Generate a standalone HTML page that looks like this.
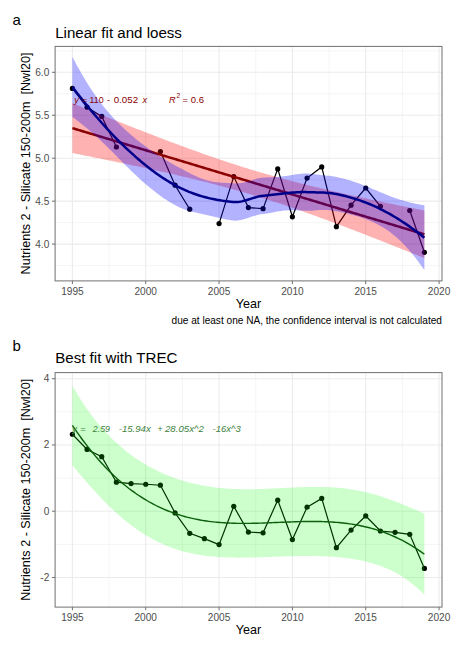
<!DOCTYPE html>
<html><head><meta charset="utf-8"><title>plot</title>
<style>html,body{margin:0;padding:0;background:#fff;}svg{display:block;}</style></head>
<body><svg width="455" height="649" viewBox="0 0 455 649" font-family="Liberation Sans, sans-serif">
<rect x="0" y="0" width="455" height="649" fill="#ffffff"/>
<rect x="54.8" y="46.4" width="387.20" height="234.50" fill="#ffffff"/>
<line x1="54.8" x2="442.0" y1="265.57" y2="265.57" stroke="#EBEBEB" stroke-width="0.55"/>
<line x1="54.8" x2="442.0" y1="222.62" y2="222.62" stroke="#EBEBEB" stroke-width="0.55"/>
<line x1="54.8" x2="442.0" y1="179.68" y2="179.68" stroke="#EBEBEB" stroke-width="0.55"/>
<line x1="54.8" x2="442.0" y1="136.73" y2="136.73" stroke="#EBEBEB" stroke-width="0.55"/>
<line x1="54.8" x2="442.0" y1="93.78" y2="93.78" stroke="#EBEBEB" stroke-width="0.55"/>
<line x1="54.8" x2="442.0" y1="50.82" y2="50.82" stroke="#EBEBEB" stroke-width="0.55"/>
<line x1="109.07" x2="109.07" y1="46.4" y2="280.9" stroke="#EBEBEB" stroke-width="0.55"/>
<line x1="182.40" x2="182.40" y1="46.4" y2="280.9" stroke="#EBEBEB" stroke-width="0.55"/>
<line x1="255.73" x2="255.73" y1="46.4" y2="280.9" stroke="#EBEBEB" stroke-width="0.55"/>
<line x1="329.07" x2="329.07" y1="46.4" y2="280.9" stroke="#EBEBEB" stroke-width="0.55"/>
<line x1="402.40" x2="402.40" y1="46.4" y2="280.9" stroke="#EBEBEB" stroke-width="0.55"/>
<line x1="54.8" x2="442.0" y1="244.10" y2="244.10" stroke="#EBEBEB" stroke-width="1.1"/>
<line x1="54.8" x2="442.0" y1="201.15" y2="201.15" stroke="#EBEBEB" stroke-width="1.1"/>
<line x1="54.8" x2="442.0" y1="158.20" y2="158.20" stroke="#EBEBEB" stroke-width="1.1"/>
<line x1="54.8" x2="442.0" y1="115.25" y2="115.25" stroke="#EBEBEB" stroke-width="1.1"/>
<line x1="54.8" x2="442.0" y1="72.30" y2="72.30" stroke="#EBEBEB" stroke-width="1.1"/>
<line x1="72.40" x2="72.40" y1="46.4" y2="280.9" stroke="#EBEBEB" stroke-width="1.1"/>
<line x1="145.73" x2="145.73" y1="46.4" y2="280.9" stroke="#EBEBEB" stroke-width="1.1"/>
<line x1="219.07" x2="219.07" y1="46.4" y2="280.9" stroke="#EBEBEB" stroke-width="1.1"/>
<line x1="292.40" x2="292.40" y1="46.4" y2="280.9" stroke="#EBEBEB" stroke-width="1.1"/>
<line x1="365.73" x2="365.73" y1="46.4" y2="280.9" stroke="#EBEBEB" stroke-width="1.1"/>
<line x1="439.07" x2="439.07" y1="46.4" y2="280.9" stroke="#EBEBEB" stroke-width="1.1"/>
<path d="M72.40,88.40 L87.07,107.20 L101.73,116.40 L116.40,147.00" fill="none" stroke="#000" stroke-width="1.2"/>
<path d="M160.40,151.60 L175.07,185.20 L189.73,209.20" fill="none" stroke="#000" stroke-width="1.2"/>
<path d="M219.07,223.60 L233.73,176.60 L248.40,207.60 L263.07,208.70 L277.73,168.90 L292.40,216.80 L307.07,178.10 L321.73,166.90 L336.40,226.70 L351.07,205.20 L365.73,188.00 L380.40,206.30" fill="none" stroke="#000" stroke-width="1.2"/>
<path d="M409.73,210.50 L424.40,252.30" fill="none" stroke="#000" stroke-width="1.2"/>
<circle cx="72.40" cy="88.40" r="2.6" fill="#000"/>
<circle cx="87.07" cy="107.20" r="2.6" fill="#000"/>
<circle cx="101.73" cy="116.40" r="2.6" fill="#000"/>
<circle cx="116.40" cy="147.00" r="2.6" fill="#000"/>
<circle cx="160.40" cy="151.60" r="2.6" fill="#000"/>
<circle cx="175.07" cy="185.20" r="2.6" fill="#000"/>
<circle cx="189.73" cy="209.20" r="2.6" fill="#000"/>
<circle cx="219.07" cy="223.60" r="2.6" fill="#000"/>
<circle cx="233.73" cy="176.60" r="2.6" fill="#000"/>
<circle cx="248.40" cy="207.60" r="2.6" fill="#000"/>
<circle cx="263.07" cy="208.70" r="2.6" fill="#000"/>
<circle cx="277.73" cy="168.90" r="2.6" fill="#000"/>
<circle cx="292.40" cy="216.80" r="2.6" fill="#000"/>
<circle cx="307.07" cy="178.10" r="2.6" fill="#000"/>
<circle cx="321.73" cy="166.90" r="2.6" fill="#000"/>
<circle cx="336.40" cy="226.70" r="2.6" fill="#000"/>
<circle cx="351.07" cy="205.20" r="2.6" fill="#000"/>
<circle cx="365.73" cy="188.00" r="2.6" fill="#000"/>
<circle cx="380.40" cy="206.30" r="2.6" fill="#000"/>
<circle cx="409.73" cy="210.50" r="2.6" fill="#000"/>
<circle cx="424.40" cy="252.30" r="2.6" fill="#000"/>
<path d="M72.40,103.20 L74.60,104.09 L76.80,104.98 L79.00,105.87 L81.20,106.76 L83.40,107.64 L85.60,108.53 L87.80,109.41 L90.00,110.30 L92.20,111.18 L94.40,112.07 L96.60,112.95 L98.80,113.83 L101.00,114.71 L103.20,115.59 L105.40,116.46 L107.60,117.34 L109.80,118.22 L112.00,119.09 L114.20,119.97 L116.40,120.84 L118.60,121.71 L120.80,122.58 L123.00,123.45 L125.20,124.31 L127.40,125.18 L129.60,126.04 L131.80,126.91 L134.00,127.77 L136.20,128.63 L138.40,129.49 L140.60,130.34 L142.80,131.20 L145.00,132.05 L147.20,132.90 L149.40,133.75 L151.60,134.60 L153.80,135.44 L156.00,136.29 L158.20,137.13 L160.40,137.97 L162.60,138.81 L164.80,139.64 L167.00,140.47 L169.20,141.30 L171.40,142.13 L173.60,142.95 L175.80,143.77 L178.00,144.59 L180.20,145.41 L182.40,146.22 L184.60,147.03 L186.80,147.84 L189.00,148.64 L191.20,149.44 L193.40,150.24 L195.60,151.03 L197.80,151.82 L200.00,152.60 L202.20,153.38 L204.40,154.16 L206.60,154.94 L208.80,155.71 L211.00,156.47 L213.20,157.23 L215.40,157.99 L217.60,158.74 L219.80,159.49 L222.00,160.23 L224.20,160.97 L226.40,161.70 L228.60,162.43 L230.80,163.15 L233.00,163.87 L235.20,164.58 L237.40,165.29 L239.60,165.99 L241.80,166.69 L244.00,167.38 L246.20,168.06 L248.40,168.74 L250.60,169.42 L252.80,170.09 L255.00,170.75 L257.20,171.41 L259.40,172.06 L261.60,172.71 L263.80,173.35 L266.00,173.99 L268.20,174.62 L270.40,175.25 L272.60,175.87 L274.80,176.49 L277.00,177.10 L279.20,177.70 L281.40,178.30 L283.60,178.90 L285.80,179.49 L288.00,180.07 L290.20,180.65 L292.40,181.23 L294.60,181.80 L296.80,182.37 L299.00,182.93 L301.20,183.49 L303.40,184.05 L305.60,184.60 L307.80,185.14 L310.00,185.69 L312.20,186.22 L314.40,186.76 L316.60,187.29 L318.80,187.82 L321.00,188.35 L323.20,188.87 L325.40,189.39 L327.60,189.90 L329.80,190.41 L332.00,190.92 L334.20,191.43 L336.40,191.93 L338.60,192.43 L340.80,192.93 L343.00,193.43 L345.20,193.92 L347.40,194.41 L349.60,194.90 L351.80,195.39 L354.00,195.87 L356.20,196.36 L358.40,196.84 L360.60,197.32 L362.80,197.79 L365.00,198.27 L367.20,198.74 L369.40,199.21 L371.60,199.68 L373.80,200.15 L376.00,200.62 L378.20,201.08 L380.40,201.54 L382.60,202.01 L384.80,202.47 L387.00,202.93 L389.20,203.38 L391.40,203.84 L393.60,204.30 L395.80,204.75 L398.00,205.20 L400.20,205.66 L402.40,206.11 L404.60,206.56 L406.80,207.01 L409.00,207.45 L411.20,207.90 L413.40,208.35 L415.60,208.79 L417.80,209.24 L420.00,209.68 L422.20,210.12 L424.40,210.56 L424.40,258.12 L422.20,257.23 L420.00,256.34 L417.80,255.46 L415.60,254.58 L413.40,253.69 L411.20,252.81 L409.00,251.93 L406.80,251.05 L404.60,250.17 L402.40,249.29 L400.20,248.42 L398.00,247.54 L395.80,246.67 L393.60,245.79 L391.40,244.92 L389.20,244.05 L387.00,243.18 L384.80,242.31 L382.60,241.45 L380.40,240.58 L378.20,239.72 L376.00,238.85 L373.80,237.99 L371.60,237.13 L369.40,236.27 L367.20,235.42 L365.00,234.56 L362.80,233.71 L360.60,232.86 L358.40,232.01 L356.20,231.16 L354.00,230.32 L351.80,229.47 L349.60,228.63 L347.40,227.79 L345.20,226.96 L343.00,226.12 L340.80,225.29 L338.60,224.46 L336.40,223.64 L334.20,222.81 L332.00,221.99 L329.80,221.17 L327.60,220.36 L325.40,219.54 L323.20,218.73 L321.00,217.93 L318.80,217.13 L316.60,216.33 L314.40,215.53 L312.20,214.74 L310.00,213.95 L307.80,213.16 L305.60,212.38 L303.40,211.60 L301.20,210.83 L299.00,210.06 L296.80,209.30 L294.60,208.54 L292.40,207.78 L290.20,207.03 L288.00,206.28 L285.80,205.54 L283.60,204.80 L281.40,204.07 L279.20,203.34 L277.00,202.62 L274.80,201.90 L272.60,201.19 L270.40,200.49 L268.20,199.78 L266.00,199.09 L263.80,198.40 L261.60,197.71 L259.40,197.03 L257.20,196.36 L255.00,195.69 L252.80,195.02 L250.60,194.36 L248.40,193.71 L246.20,193.06 L244.00,192.42 L241.80,191.79 L239.60,191.16 L237.40,190.53 L235.20,189.91 L233.00,189.29 L230.80,188.68 L228.60,188.08 L226.40,187.48 L224.20,186.88 L222.00,186.29 L219.80,185.71 L217.60,185.13 L215.40,184.55 L213.20,183.98 L211.00,183.41 L208.80,182.85 L206.60,182.29 L204.40,181.74 L202.20,181.19 L200.00,180.64 L197.80,180.10 L195.60,179.56 L193.40,179.03 L191.20,178.49 L189.00,177.97 L186.80,177.44 L184.60,176.92 L182.40,176.40 L180.20,175.89 L178.00,175.38 L175.80,174.87 L173.60,174.36 L171.40,173.86 L169.20,173.36 L167.00,172.86 L164.80,172.36 L162.60,171.87 L160.40,171.38 L158.20,170.89 L156.00,170.40 L153.80,169.92 L151.60,169.43 L149.40,168.95 L147.20,168.48 L145.00,168.00 L142.80,167.52 L140.60,167.05 L138.40,166.58 L136.20,166.11 L134.00,165.64 L131.80,165.18 L129.60,164.71 L127.40,164.25 L125.20,163.79 L123.00,163.33 L120.80,162.87 L118.60,162.41 L116.40,161.95 L114.20,161.50 L112.00,161.04 L109.80,160.59 L107.60,160.14 L105.40,159.69 L103.20,159.24 L101.00,158.79 L98.80,158.34 L96.60,157.89 L94.40,157.45 L92.20,157.00 L90.00,156.56 L87.80,156.11 L85.60,155.67 L83.40,155.23 L81.20,154.79 L79.00,154.35 L76.80,153.91 L74.60,153.47 L72.40,153.03Z" fill="#FF0000" fill-opacity="0.3"/>
<path d="M72.40,128.12 L74.60,128.78 L76.80,129.44 L79.00,130.11 L81.20,130.77 L83.40,131.44 L85.60,132.10 L87.80,132.76 L90.00,133.43 L92.20,134.09 L94.40,134.76 L96.60,135.42 L98.80,136.08 L101.00,136.75 L103.20,137.41 L105.40,138.08 L107.60,138.74 L109.80,139.40 L112.00,140.07 L114.20,140.73 L116.40,141.39 L118.60,142.06 L120.80,142.72 L123.00,143.39 L125.20,144.05 L127.40,144.71 L129.60,145.38 L131.80,146.04 L134.00,146.71 L136.20,147.37 L138.40,148.03 L140.60,148.70 L142.80,149.36 L145.00,150.03 L147.20,150.69 L149.40,151.35 L151.60,152.02 L153.80,152.68 L156.00,153.34 L158.20,154.01 L160.40,154.67 L162.60,155.34 L164.80,156.00 L167.00,156.66 L169.20,157.33 L171.40,157.99 L173.60,158.66 L175.80,159.32 L178.00,159.98 L180.20,160.65 L182.40,161.31 L184.60,161.98 L186.80,162.64 L189.00,163.30 L191.20,163.97 L193.40,164.63 L195.60,165.29 L197.80,165.96 L200.00,166.62 L202.20,167.29 L204.40,167.95 L206.60,168.61 L208.80,169.28 L211.00,169.94 L213.20,170.61 L215.40,171.27 L217.60,171.93 L219.80,172.60 L222.00,173.26 L224.20,173.93 L226.40,174.59 L228.60,175.25 L230.80,175.92 L233.00,176.58 L235.20,177.24 L237.40,177.91 L239.60,178.57 L241.80,179.24 L244.00,179.90 L246.20,180.56 L248.40,181.23 L250.60,181.89 L252.80,182.56 L255.00,183.22 L257.20,183.88 L259.40,184.55 L261.60,185.21 L263.80,185.88 L266.00,186.54 L268.20,187.20 L270.40,187.87 L272.60,188.53 L274.80,189.19 L277.00,189.86 L279.20,190.52 L281.40,191.19 L283.60,191.85 L285.80,192.51 L288.00,193.18 L290.20,193.84 L292.40,194.51 L294.60,195.17 L296.80,195.83 L299.00,196.50 L301.20,197.16 L303.40,197.83 L305.60,198.49 L307.80,199.15 L310.00,199.82 L312.20,200.48 L314.40,201.14 L316.60,201.81 L318.80,202.47 L321.00,203.14 L323.20,203.80 L325.40,204.46 L327.60,205.13 L329.80,205.79 L332.00,206.46 L334.20,207.12 L336.40,207.78 L338.60,208.45 L340.80,209.11 L343.00,209.78 L345.20,210.44 L347.40,211.10 L349.60,211.77 L351.80,212.43 L354.00,213.10 L356.20,213.76 L358.40,214.42 L360.60,215.09 L362.80,215.75 L365.00,216.41 L367.20,217.08 L369.40,217.74 L371.60,218.41 L373.80,219.07 L376.00,219.73 L378.20,220.40 L380.40,221.06 L382.60,221.73 L384.80,222.39 L387.00,223.05 L389.20,223.72 L391.40,224.38 L393.60,225.05 L395.80,225.71 L398.00,226.37 L400.20,227.04 L402.40,227.70 L404.60,228.36 L406.80,229.03 L409.00,229.69 L411.20,230.36 L413.40,231.02 L415.60,231.68 L417.80,232.35 L420.00,233.01 L422.20,233.68 L424.40,234.34" fill="none" stroke="#8B0000" stroke-width="2.5"/>
<path d="M72.40,56.86 L74.60,61.04 L76.80,65.13 L79.00,69.11 L81.20,72.99 L83.40,76.77 L85.60,80.44 L87.80,84.01 L90.00,87.47 L92.20,90.82 L94.40,94.06 L96.60,97.20 L98.80,100.23 L101.00,103.16 L103.20,105.99 L105.40,108.72 L107.60,111.36 L109.80,113.91 L112.00,116.37 L114.20,118.76 L116.40,121.07 L118.60,123.32 L120.80,125.49 L123.00,127.61 L125.20,129.66 L127.40,131.66 L129.60,133.61 L131.80,135.51 L134.00,137.36 L136.20,139.17 L138.40,140.94 L140.60,142.67 L142.80,144.35 L145.00,146.01 L147.20,147.62 L149.40,149.20 L151.60,150.75 L153.80,152.26 L156.00,153.74 L158.20,155.19 L160.40,156.60 L162.60,157.99 L164.80,159.34 L167.00,160.67 L169.20,161.97 L171.40,163.23 L173.60,164.47 L175.80,165.67 L178.00,166.88 L180.20,168.10 L182.40,169.31 L184.60,170.51 L186.80,171.69 L189.00,172.85 L191.20,173.96 L193.40,175.04 L195.60,176.06 L197.80,177.02 L200.00,177.91 L202.20,178.73 L204.40,179.47 L206.60,180.13 L208.80,180.71 L211.00,181.20 L213.20,181.63 L215.40,181.98 L217.60,182.26 L219.80,182.50 L222.00,182.69 L224.20,182.85 L226.40,182.98 L228.60,183.11 L230.80,183.23 L233.00,183.37 L235.20,183.49 L237.40,183.45 L239.60,183.26 L241.80,182.93 L244.00,182.49 L246.20,181.94 L248.40,181.31 L250.60,180.63 L252.80,179.93 L255.00,179.24 L257.20,178.60 L259.40,178.07 L261.60,177.69 L263.80,177.50 L266.00,177.38 L268.20,177.29 L270.40,177.22 L272.60,177.14 L274.80,177.06 L277.00,176.94 L279.20,176.79 L281.40,176.59 L283.60,176.35 L285.80,176.05 L288.00,175.72 L290.20,175.35 L292.40,174.97 L294.60,174.59 L296.80,174.23 L299.00,173.92 L301.20,173.68 L303.40,173.53 L305.60,173.48 L307.80,173.57 L310.00,173.75 L312.20,173.97 L314.40,174.23 L316.60,174.50 L318.80,174.76 L321.00,175.01 L323.20,175.23 L325.40,175.44 L327.60,175.65 L329.80,175.87 L332.00,176.13 L334.20,176.46 L336.40,176.88 L338.60,177.38 L340.80,177.91 L343.00,178.47 L345.20,179.07 L347.40,179.70 L349.60,180.36 L351.80,181.05 L354.00,181.77 L356.20,182.52 L358.40,183.30 L360.60,184.10 L362.80,184.93 L365.00,185.78 L367.20,186.66 L369.40,187.55 L371.60,188.46 L373.80,189.38 L376.00,190.31 L378.20,191.24 L380.40,192.18 L382.60,193.11 L384.80,194.03 L387.00,194.92 L389.20,195.79 L391.40,196.64 L393.60,197.45 L395.80,198.23 L398.00,198.97 L400.20,199.68 L402.40,200.36 L404.60,201.00 L406.80,201.61 L409.00,202.18 L411.20,202.72 L413.40,203.23 L415.60,203.71 L417.80,204.15 L420.00,204.58 L422.20,204.97 L424.40,205.34 L424.40,270.07 L422.20,266.93 L420.00,263.89 L417.80,260.95 L415.60,258.09 L413.40,255.33 L411.20,252.67 L409.00,250.11 L406.80,247.65 L404.60,245.29 L402.40,243.03 L400.20,240.87 L398.00,238.81 L395.80,236.86 L393.60,235.00 L391.40,233.25 L389.20,231.60 L387.00,230.04 L384.80,228.57 L382.60,227.19 L380.40,225.89 L378.20,224.67 L376.00,223.53 L373.80,222.46 L371.60,221.46 L369.40,220.52 L367.20,219.63 L365.00,218.79 L362.80,218.01 L360.60,217.26 L358.40,216.57 L356.20,215.90 L354.00,215.28 L351.80,214.69 L349.60,214.13 L347.40,213.60 L345.20,213.10 L343.00,212.62 L340.80,212.16 L338.60,211.73 L336.40,211.31 L334.20,210.93 L332.00,210.59 L329.80,210.32 L327.60,210.12 L325.40,210.00 L323.20,209.96 L321.00,210.01 L318.80,210.12 L316.60,210.28 L314.40,210.47 L312.20,210.64 L310.00,210.76 L307.80,210.80 L305.60,210.74 L303.40,210.64 L301.20,210.53 L299.00,210.41 L296.80,210.30 L294.60,210.22 L292.40,210.17 L290.20,210.18 L288.00,210.25 L285.80,210.39 L283.60,210.60 L281.40,210.88 L279.20,211.22 L277.00,211.61 L274.80,212.04 L272.60,212.48 L270.40,212.92 L268.20,213.33 L266.00,213.69 L263.80,213.98 L261.60,214.23 L259.40,214.60 L257.20,215.07 L255.00,215.65 L252.80,216.30 L250.60,217.01 L248.40,217.75 L246.20,218.49 L244.00,219.18 L241.80,219.80 L239.60,220.28 L237.40,220.59 L235.20,220.68 L233.00,220.51 L230.80,220.21 L228.60,219.86 L226.40,219.46 L224.20,219.02 L222.00,218.55 L219.80,218.05 L217.60,217.54 L215.40,217.02 L213.20,216.50 L211.00,215.99 L208.80,215.48 L206.60,214.99 L204.40,214.50 L202.20,214.01 L200.00,213.53 L197.80,213.04 L195.60,212.53 L193.40,212.00 L191.20,211.44 L189.00,210.82 L186.80,210.16 L184.60,209.42 L182.40,208.61 L180.20,207.70 L178.00,206.70 L175.80,205.59 L173.60,204.37 L171.40,203.09 L169.20,201.75 L167.00,200.36 L164.80,198.91 L162.60,197.41 L160.40,195.85 L158.20,194.24 L156.00,192.58 L153.80,190.87 L151.60,189.11 L149.40,187.31 L147.20,185.46 L145.00,183.56 L142.80,181.63 L140.60,179.65 L138.40,177.64 L136.20,175.59 L134.00,173.50 L131.80,171.39 L129.60,169.25 L127.40,167.09 L125.20,164.90 L123.00,162.70 L120.80,160.49 L118.60,158.27 L116.40,156.05 L114.20,153.83 L112.00,151.62 L109.80,149.42 L107.60,147.24 L105.40,145.09 L103.20,142.95 L101.00,140.86 L98.80,138.79 L96.60,136.77 L94.40,134.79 L92.20,132.84 L90.00,130.94 L87.80,129.08 L85.60,127.25 L83.40,125.46 L81.20,123.70 L79.00,121.98 L76.80,120.28 L74.60,118.61 L72.40,116.96Z" fill="#0000FF" fill-opacity="0.3"/>
<path d="M72.40,86.91 L74.60,89.82 L76.80,92.70 L79.00,95.54 L81.20,98.35 L83.40,101.11 L85.60,103.85 L87.80,106.54 L90.00,109.20 L92.20,111.83 L94.40,114.43 L96.60,116.99 L98.80,119.51 L101.00,122.01 L103.20,124.47 L105.40,126.90 L107.60,129.30 L109.80,131.66 L112.00,134.00 L114.20,136.30 L116.40,138.56 L118.60,140.80 L120.80,142.99 L123.00,145.16 L125.20,147.28 L127.40,149.38 L129.60,151.43 L131.80,153.45 L134.00,155.43 L136.20,157.38 L138.40,159.29 L140.60,161.16 L142.80,162.99 L145.00,164.78 L147.20,166.54 L149.40,168.25 L151.60,169.93 L153.80,171.57 L156.00,173.16 L158.20,174.71 L160.40,176.23 L162.60,177.70 L164.80,179.13 L167.00,180.51 L169.20,181.86 L171.40,183.16 L173.60,184.42 L175.80,185.63 L178.00,186.79 L180.20,187.90 L182.40,188.96 L184.60,189.97 L186.80,190.92 L189.00,191.84 L191.20,192.70 L193.40,193.52 L195.60,194.30 L197.80,195.03 L200.00,195.72 L202.20,196.37 L204.40,196.98 L206.60,197.56 L208.80,198.10 L211.00,198.60 L213.20,199.07 L215.40,199.50 L217.60,199.90 L219.80,200.28 L222.00,200.62 L224.20,200.93 L226.40,201.22 L228.60,201.49 L230.80,201.72 L233.00,201.94 L235.20,202.08 L237.40,202.02 L239.60,201.77 L241.80,201.37 L244.00,200.84 L246.20,200.21 L248.40,199.53 L250.60,198.82 L252.80,198.11 L255.00,197.44 L257.20,196.84 L259.40,196.33 L261.60,195.96 L263.80,195.74 L266.00,195.54 L268.20,195.31 L270.40,195.07 L272.60,194.81 L274.80,194.55 L277.00,194.28 L279.20,194.01 L281.40,193.74 L283.60,193.47 L285.80,193.22 L288.00,192.99 L290.20,192.77 L292.40,192.57 L294.60,192.40 L296.80,192.27 L299.00,192.16 L301.20,192.10 L303.40,192.08 L305.60,192.11 L307.80,192.19 L310.00,192.25 L312.20,192.31 L314.40,192.35 L316.60,192.39 L318.80,192.44 L321.00,192.51 L323.20,192.60 L325.40,192.72 L327.60,192.88 L329.80,193.09 L332.00,193.36 L334.20,193.69 L336.40,194.10 L338.60,194.55 L340.80,195.03 L343.00,195.54 L345.20,196.08 L347.40,196.65 L349.60,197.24 L351.80,197.87 L354.00,198.52 L356.20,199.21 L358.40,199.93 L360.60,200.68 L362.80,201.47 L365.00,202.29 L367.20,203.14 L369.40,204.03 L371.60,204.96 L373.80,205.92 L376.00,206.92 L378.20,207.96 L380.40,209.04 L382.60,210.15 L384.80,211.30 L387.00,212.48 L389.20,213.69 L391.40,214.94 L393.60,216.23 L395.80,217.54 L398.00,218.89 L400.20,220.28 L402.40,221.69 L404.60,223.14 L406.80,224.63 L409.00,226.15 L411.20,227.70 L413.40,229.28 L415.60,230.90 L417.80,232.55 L420.00,234.23 L422.20,235.95 L424.40,237.70" fill="none" stroke="#00008B" stroke-width="2.5"/>
<rect x="55.1" y="46.4" width="386.90" height="234.50" fill="none" stroke="#707070" stroke-width="1.0"/>
<line x1="51.90" x2="55.1" y1="244.10" y2="244.10" stroke="#707070" stroke-width="1.0"/>
<text x="49.30" y="247.60" text-anchor="end" font-size="10.1" fill="#4D4D4D">4.0</text>
<line x1="51.90" x2="55.1" y1="201.15" y2="201.15" stroke="#707070" stroke-width="1.0"/>
<text x="49.30" y="204.65" text-anchor="end" font-size="10.1" fill="#4D4D4D">4.5</text>
<line x1="51.90" x2="55.1" y1="158.20" y2="158.20" stroke="#707070" stroke-width="1.0"/>
<text x="49.30" y="161.70" text-anchor="end" font-size="10.1" fill="#4D4D4D">5.0</text>
<line x1="51.90" x2="55.1" y1="115.25" y2="115.25" stroke="#707070" stroke-width="1.0"/>
<text x="49.30" y="118.75" text-anchor="end" font-size="10.1" fill="#4D4D4D">5.5</text>
<line x1="51.90" x2="55.1" y1="72.30" y2="72.30" stroke="#707070" stroke-width="1.0"/>
<text x="49.30" y="75.80" text-anchor="end" font-size="10.1" fill="#4D4D4D">6.0</text>
<line x1="72.40" x2="72.40" y1="280.9" y2="284.10" stroke="#707070" stroke-width="1.0"/>
<text x="72.40" y="294.50" text-anchor="middle" font-size="10.1" fill="#4D4D4D">1995</text>
<line x1="145.73" x2="145.73" y1="280.9" y2="284.10" stroke="#707070" stroke-width="1.0"/>
<text x="145.73" y="294.50" text-anchor="middle" font-size="10.1" fill="#4D4D4D">2000</text>
<line x1="219.07" x2="219.07" y1="280.9" y2="284.10" stroke="#707070" stroke-width="1.0"/>
<text x="219.07" y="294.50" text-anchor="middle" font-size="10.1" fill="#4D4D4D">2005</text>
<line x1="292.40" x2="292.40" y1="280.9" y2="284.10" stroke="#707070" stroke-width="1.0"/>
<text x="292.40" y="294.50" text-anchor="middle" font-size="10.1" fill="#4D4D4D">2010</text>
<line x1="365.73" x2="365.73" y1="280.9" y2="284.10" stroke="#707070" stroke-width="1.0"/>
<text x="365.73" y="294.50" text-anchor="middle" font-size="10.1" fill="#4D4D4D">2015</text>
<line x1="439.07" x2="439.07" y1="280.9" y2="284.10" stroke="#707070" stroke-width="1.0"/>
<text x="439.07" y="294.50" text-anchor="middle" font-size="10.1" fill="#4D4D4D">2020</text>
<text x="74.16" y="102.60" font-size="9.2" font-style="italic" fill="#8B0000">y</text>
<text x="81.74" y="102.60" font-size="9.2" font-style="normal" fill="#8B0000">=</text>
<text x="89.49" y="102.60" font-size="9.2" font-style="normal" fill="#8B0000" textLength="14.10" lengthAdjust="spacingAndGlyphs">110</text>
<text x="106.93" y="102.60" font-size="9.2" font-style="normal" fill="#8B0000">-</text>
<text x="113.71" y="102.60" font-size="9.2" font-style="normal" fill="#8B0000" textLength="24.40" lengthAdjust="spacingAndGlyphs">0.052</text>
<text x="142.47" y="102.60" font-size="9.2" font-style="italic" fill="#8B0000">x</text>
<text x="168.92" y="102.60" font-size="9.2" font-style="italic" fill="#8B0000">R</text>
<text x="182.54" y="102.60" font-size="9.2" font-style="normal" fill="#8B0000">=</text>
<text x="190.82" y="102.60" font-size="9.2" font-style="normal" fill="#8B0000" textLength="13.16" lengthAdjust="spacingAndGlyphs">0.6</text>
<text x="176.57" y="98.00" font-size="6.6" font-style="normal" fill="#8B0000">2</text>
<text x="12.5" y="24.8" font-size="15" fill="#000">a</text>
<text x="55.2" y="37.6" font-size="15.1" fill="#000">Linear fit and loess</text>
<text x="248.4" y="307.8" text-anchor="middle" font-size="12.6" fill="#000">Year</text>
<text x="442" y="323.5" text-anchor="end" font-size="10.1" fill="#000">due at least one NA, the confidence interval is not calculated</text>
<text transform="translate(29.8,163.5) rotate(-90)" text-anchor="middle" font-size="12.6" fill="#000" xml:space="preserve">Nutrients 2 - Silicate 150-200m  [Nwl20]</text>
<rect x="54.8" y="372.6" width="387.20" height="234.50" fill="#ffffff"/>
<line x1="54.8" x2="442.0" y1="544.33" y2="544.33" stroke="#EBEBEB" stroke-width="0.55"/>
<line x1="54.8" x2="442.0" y1="478.07" y2="478.07" stroke="#EBEBEB" stroke-width="0.55"/>
<line x1="54.8" x2="442.0" y1="411.81" y2="411.81" stroke="#EBEBEB" stroke-width="0.55"/>
<line x1="109.07" x2="109.07" y1="372.6" y2="607.1" stroke="#EBEBEB" stroke-width="0.55"/>
<line x1="182.40" x2="182.40" y1="372.6" y2="607.1" stroke="#EBEBEB" stroke-width="0.55"/>
<line x1="255.73" x2="255.73" y1="372.6" y2="607.1" stroke="#EBEBEB" stroke-width="0.55"/>
<line x1="329.07" x2="329.07" y1="372.6" y2="607.1" stroke="#EBEBEB" stroke-width="0.55"/>
<line x1="402.40" x2="402.40" y1="372.6" y2="607.1" stroke="#EBEBEB" stroke-width="0.55"/>
<line x1="54.8" x2="442.0" y1="577.46" y2="577.46" stroke="#EBEBEB" stroke-width="1.1"/>
<line x1="54.8" x2="442.0" y1="511.20" y2="511.20" stroke="#EBEBEB" stroke-width="1.1"/>
<line x1="54.8" x2="442.0" y1="444.94" y2="444.94" stroke="#EBEBEB" stroke-width="1.1"/>
<line x1="54.8" x2="442.0" y1="378.68" y2="378.68" stroke="#EBEBEB" stroke-width="1.1"/>
<line x1="72.40" x2="72.40" y1="372.6" y2="607.1" stroke="#EBEBEB" stroke-width="1.1"/>
<line x1="145.73" x2="145.73" y1="372.6" y2="607.1" stroke="#EBEBEB" stroke-width="1.1"/>
<line x1="219.07" x2="219.07" y1="372.6" y2="607.1" stroke="#EBEBEB" stroke-width="1.1"/>
<line x1="292.40" x2="292.40" y1="372.6" y2="607.1" stroke="#EBEBEB" stroke-width="1.1"/>
<line x1="365.73" x2="365.73" y1="372.6" y2="607.1" stroke="#EBEBEB" stroke-width="1.1"/>
<line x1="439.07" x2="439.07" y1="372.6" y2="607.1" stroke="#EBEBEB" stroke-width="1.1"/>
<path d="M72.40,434.25 L87.07,449.44 L101.73,456.66 L116.40,482.20 L131.07,483.55 L145.73,484.23 L160.40,485.22 L175.07,512.93 L189.73,533.35 L204.40,538.67 L219.07,544.60 L233.73,506.34 L248.40,532.08 L263.07,532.81 L277.73,500.15 L292.40,539.58 L307.07,507.20 L321.73,498.41 L336.40,547.71 L351.07,530.10 L365.73,515.96 L380.40,531.01 L395.07,532.34 L409.73,534.34 L424.40,568.42" fill="none" stroke="#000" stroke-width="1.2"/>
<circle cx="72.40" cy="434.25" r="2.6" fill="#000"/>
<circle cx="87.07" cy="449.44" r="2.6" fill="#000"/>
<circle cx="101.73" cy="456.66" r="2.6" fill="#000"/>
<circle cx="116.40" cy="482.20" r="2.6" fill="#000"/>
<circle cx="131.07" cy="483.55" r="2.6" fill="#000"/>
<circle cx="145.73" cy="484.23" r="2.6" fill="#000"/>
<circle cx="160.40" cy="485.22" r="2.6" fill="#000"/>
<circle cx="175.07" cy="512.93" r="2.6" fill="#000"/>
<circle cx="189.73" cy="533.35" r="2.6" fill="#000"/>
<circle cx="204.40" cy="538.67" r="2.6" fill="#000"/>
<circle cx="219.07" cy="544.60" r="2.6" fill="#000"/>
<circle cx="233.73" cy="506.34" r="2.6" fill="#000"/>
<circle cx="248.40" cy="532.08" r="2.6" fill="#000"/>
<circle cx="263.07" cy="532.81" r="2.6" fill="#000"/>
<circle cx="277.73" cy="500.15" r="2.6" fill="#000"/>
<circle cx="292.40" cy="539.58" r="2.6" fill="#000"/>
<circle cx="307.07" cy="507.20" r="2.6" fill="#000"/>
<circle cx="321.73" cy="498.41" r="2.6" fill="#000"/>
<circle cx="336.40" cy="547.71" r="2.6" fill="#000"/>
<circle cx="351.07" cy="530.10" r="2.6" fill="#000"/>
<circle cx="365.73" cy="515.96" r="2.6" fill="#000"/>
<circle cx="380.40" cy="531.01" r="2.6" fill="#000"/>
<circle cx="395.07" cy="532.34" r="2.6" fill="#000"/>
<circle cx="409.73" cy="534.34" r="2.6" fill="#000"/>
<circle cx="424.40" cy="568.42" r="2.6" fill="#000"/>
<path d="M72.40,385.65 L74.60,389.48 L76.80,393.20 L79.00,396.80 L81.20,400.28 L83.40,403.65 L85.60,406.92 L87.80,410.07 L90.00,413.13 L92.20,416.09 L94.40,418.94 L96.60,421.71 L98.80,424.39 L101.00,426.97 L103.20,429.47 L105.40,431.90 L107.60,434.24 L109.80,436.50 L112.00,438.69 L114.20,440.81 L116.40,442.86 L118.60,444.84 L120.80,446.76 L123.00,448.62 L125.20,450.41 L127.40,452.15 L129.60,453.82 L131.80,455.45 L134.00,457.02 L136.20,458.54 L138.40,460.01 L140.60,461.43 L142.80,462.80 L145.00,464.12 L147.20,465.40 L149.40,466.64 L151.60,467.83 L153.80,468.98 L156.00,470.09 L158.20,471.17 L160.40,472.20 L162.60,473.19 L164.80,474.15 L167.00,475.07 L169.20,475.95 L171.40,476.80 L173.60,477.62 L175.80,478.40 L178.00,479.15 L180.20,479.87 L182.40,480.55 L184.60,481.20 L186.80,481.83 L189.00,482.42 L191.20,482.99 L193.40,483.52 L195.60,484.03 L197.80,484.51 L200.00,484.97 L202.20,485.39 L204.40,485.79 L206.60,486.17 L208.80,486.52 L211.00,486.84 L213.20,487.15 L215.40,487.43 L217.60,487.68 L219.80,487.92 L222.00,488.13 L224.20,488.32 L226.40,488.49 L228.60,488.64 L230.80,488.77 L233.00,488.88 L235.20,488.98 L237.40,489.06 L239.60,489.12 L241.80,489.16 L244.00,489.19 L246.20,489.21 L248.40,489.21 L250.60,489.19 L252.80,489.17 L255.00,489.13 L257.20,489.08 L259.40,489.02 L261.60,488.96 L263.80,488.88 L266.00,488.80 L268.20,488.71 L270.40,488.61 L272.60,488.51 L274.80,488.40 L277.00,488.30 L279.20,488.18 L281.40,488.07 L283.60,487.96 L285.80,487.85 L288.00,487.74 L290.20,487.63 L292.40,487.53 L294.60,487.43 L296.80,487.33 L299.00,487.25 L301.20,487.17 L303.40,487.09 L305.60,487.03 L307.80,486.98 L310.00,486.94 L312.20,486.91 L314.40,486.89 L316.60,486.89 L318.80,486.91 L321.00,486.94 L323.20,486.99 L325.40,487.05 L327.60,487.13 L329.80,487.24 L332.00,487.36 L334.20,487.50 L336.40,487.67 L338.60,487.86 L340.80,488.07 L343.00,488.30 L345.20,488.56 L347.40,488.84 L349.60,489.15 L351.80,489.49 L354.00,489.85 L356.20,490.23 L358.40,490.65 L360.60,491.09 L362.80,491.56 L365.00,492.05 L367.20,492.57 L369.40,493.12 L371.60,493.69 L373.80,494.29 L376.00,494.92 L378.20,495.57 L380.40,496.25 L382.60,496.96 L384.80,497.68 L387.00,498.43 L389.20,499.20 L391.40,500.00 L393.60,500.81 L395.80,501.64 L398.00,502.50 L400.20,503.36 L402.40,504.25 L404.60,505.15 L406.80,506.06 L409.00,506.99 L411.20,507.92 L413.40,508.87 L415.60,509.82 L417.80,510.79 L420.00,511.75 L422.20,512.73 L424.40,513.71 L424.40,594.83 L422.20,592.61 L420.00,590.49 L417.80,588.47 L415.60,586.54 L413.40,584.69 L411.20,582.94 L409.00,581.27 L406.80,579.68 L404.60,578.16 L402.40,576.73 L400.20,575.36 L398.00,574.07 L395.80,572.84 L393.60,571.68 L391.40,570.58 L389.20,569.55 L387.00,568.56 L384.80,567.64 L382.60,566.76 L380.40,565.93 L378.20,565.16 L376.00,564.42 L373.80,563.73 L371.60,563.09 L369.40,562.48 L367.20,561.91 L365.00,561.37 L362.80,560.87 L360.60,560.41 L358.40,559.97 L356.20,559.57 L354.00,559.19 L351.80,558.84 L349.60,558.51 L347.40,558.22 L345.20,557.94 L343.00,557.69 L340.80,557.45 L338.60,557.24 L336.40,557.05 L334.20,556.88 L332.00,556.73 L329.80,556.59 L327.60,556.47 L325.40,556.36 L323.20,556.27 L321.00,556.20 L318.80,556.13 L316.60,556.08 L314.40,556.04 L312.20,556.02 L310.00,556.00 L307.80,555.99 L305.60,556.00 L303.40,556.01 L301.20,556.03 L299.00,556.06 L296.80,556.10 L294.60,556.14 L292.40,556.19 L290.20,556.25 L288.00,556.31 L285.80,556.37 L283.60,556.44 L281.40,556.51 L279.20,556.58 L277.00,556.66 L274.80,556.74 L272.60,556.82 L270.40,556.89 L268.20,556.97 L266.00,557.05 L263.80,557.13 L261.60,557.20 L259.40,557.27 L257.20,557.33 L255.00,557.40 L252.80,557.45 L250.60,557.50 L248.40,557.54 L246.20,557.58 L244.00,557.61 L241.80,557.62 L239.60,557.63 L237.40,557.63 L235.20,557.61 L233.00,557.58 L230.80,557.54 L228.60,557.48 L226.40,557.41 L224.20,557.32 L222.00,557.21 L219.80,557.09 L217.60,556.94 L215.40,556.78 L213.20,556.59 L211.00,556.38 L208.80,556.15 L206.60,555.89 L204.40,555.61 L202.20,555.30 L200.00,554.96 L197.80,554.59 L195.60,554.20 L193.40,553.77 L191.20,553.31 L189.00,552.82 L186.80,552.30 L184.60,551.74 L182.40,551.14 L180.20,550.51 L178.00,549.84 L175.80,549.14 L173.60,548.39 L171.40,547.60 L169.20,546.78 L167.00,545.91 L164.80,544.99 L162.60,544.04 L160.40,543.04 L158.20,541.99 L156.00,540.90 L153.80,539.76 L151.60,538.58 L149.40,537.35 L147.20,536.07 L145.00,534.74 L142.80,533.36 L140.60,531.94 L138.40,530.46 L136.20,528.94 L134.00,527.36 L131.80,525.74 L129.60,524.06 L127.40,522.34 L125.20,520.56 L123.00,518.74 L120.80,516.87 L118.60,514.95 L116.40,512.98 L114.20,510.97 L112.00,508.90 L109.80,506.80 L107.60,504.64 L105.40,502.45 L103.20,500.21 L101.00,497.93 L98.80,495.61 L96.60,493.25 L94.40,490.85 L92.20,488.42 L90.00,485.95 L87.80,483.45 L85.60,480.92 L83.40,478.36 L81.20,475.77 L79.00,473.15 L76.80,470.50 L74.60,467.83 L72.40,465.14Z" fill="#00FF00" fill-opacity="0.2"/>
<path d="M72.40,425.39 L74.60,428.66 L76.80,431.85 L79.00,434.97 L81.20,438.02 L83.40,441.00 L85.60,443.92 L87.80,446.76 L90.00,449.54 L92.20,452.25 L94.40,454.90 L96.60,457.48 L98.80,460.00 L101.00,462.45 L103.20,464.84 L105.40,467.17 L107.60,469.44 L109.80,471.65 L112.00,473.80 L114.20,475.89 L116.40,477.92 L118.60,479.90 L120.80,481.81 L123.00,483.68 L125.20,485.49 L127.40,487.24 L129.60,488.94 L131.80,490.59 L134.00,492.19 L136.20,493.74 L138.40,495.23 L140.60,496.68 L142.80,498.08 L145.00,499.43 L147.20,500.74 L149.40,501.99 L151.60,503.21 L153.80,504.37 L156.00,505.50 L158.20,506.58 L160.40,507.62 L162.60,508.61 L164.80,509.57 L167.00,510.49 L169.20,511.36 L171.40,512.20 L173.60,513.00 L175.80,513.77 L178.00,514.50 L180.20,515.19 L182.40,515.85 L184.60,516.47 L186.80,517.06 L189.00,517.62 L191.20,518.15 L193.40,518.65 L195.60,519.11 L197.80,519.55 L200.00,519.96 L202.20,520.34 L204.40,520.70 L206.60,521.03 L208.80,521.33 L211.00,521.61 L213.20,521.87 L215.40,522.10 L217.60,522.31 L219.80,522.50 L222.00,522.67 L224.20,522.82 L226.40,522.95 L228.60,523.06 L230.80,523.16 L233.00,523.23 L235.20,523.30 L237.40,523.34 L239.60,523.37 L241.80,523.39 L244.00,523.40 L246.20,523.39 L248.40,523.38 L250.60,523.35 L252.80,523.31 L255.00,523.26 L257.20,523.21 L259.40,523.15 L261.60,523.08 L263.80,523.00 L266.00,522.92 L268.20,522.84 L270.40,522.75 L272.60,522.66 L274.80,522.57 L277.00,522.48 L279.20,522.38 L281.40,522.29 L283.60,522.20 L285.80,522.11 L288.00,522.02 L290.20,521.94 L292.40,521.86 L294.60,521.78 L296.80,521.72 L299.00,521.65 L301.20,521.60 L303.40,521.55 L305.60,521.51 L307.80,521.49 L310.00,521.47 L312.20,521.46 L314.40,521.47 L316.60,521.49 L318.80,521.52 L321.00,521.57 L323.20,521.63 L325.40,521.71 L327.60,521.80 L329.80,521.91 L332.00,522.04 L334.20,522.19 L336.40,522.36 L338.60,522.55 L340.80,522.76 L343.00,522.99 L345.20,523.25 L347.40,523.53 L349.60,523.83 L351.80,524.16 L354.00,524.52 L356.20,524.90 L358.40,525.31 L360.60,525.75 L362.80,526.22 L365.00,526.71 L367.20,527.24 L369.40,527.80 L371.60,528.39 L373.80,529.01 L376.00,529.67 L378.20,530.37 L380.40,531.09 L382.60,531.86 L384.80,532.66 L387.00,533.50 L389.20,534.37 L391.40,535.29 L393.60,536.25 L395.80,537.24 L398.00,538.28 L400.20,539.36 L402.40,540.49 L404.60,541.66 L406.80,542.87 L409.00,544.13 L411.20,545.43 L413.40,546.78 L415.60,548.18 L417.80,549.63 L420.00,551.12 L422.20,552.67 L424.40,554.27" fill="none" stroke="#0B5E0B" stroke-width="1.4"/>
<rect x="55.1" y="372.6" width="386.90" height="234.50" fill="none" stroke="#707070" stroke-width="1.0"/>
<line x1="51.90" x2="55.1" y1="577.46" y2="577.46" stroke="#707070" stroke-width="1.0"/>
<text x="49.30" y="580.96" text-anchor="end" font-size="10.1" fill="#4D4D4D">-2</text>
<line x1="51.90" x2="55.1" y1="511.20" y2="511.20" stroke="#707070" stroke-width="1.0"/>
<text x="49.30" y="514.70" text-anchor="end" font-size="10.1" fill="#4D4D4D">0</text>
<line x1="51.90" x2="55.1" y1="444.94" y2="444.94" stroke="#707070" stroke-width="1.0"/>
<text x="49.30" y="448.44" text-anchor="end" font-size="10.1" fill="#4D4D4D">2</text>
<line x1="51.90" x2="55.1" y1="378.68" y2="378.68" stroke="#707070" stroke-width="1.0"/>
<text x="49.30" y="382.18" text-anchor="end" font-size="10.1" fill="#4D4D4D">4</text>
<line x1="72.40" x2="72.40" y1="607.1" y2="610.30" stroke="#707070" stroke-width="1.0"/>
<text x="72.40" y="620.70" text-anchor="middle" font-size="10.1" fill="#4D4D4D">1995</text>
<line x1="145.73" x2="145.73" y1="607.1" y2="610.30" stroke="#707070" stroke-width="1.0"/>
<text x="145.73" y="620.70" text-anchor="middle" font-size="10.1" fill="#4D4D4D">2000</text>
<line x1="219.07" x2="219.07" y1="607.1" y2="610.30" stroke="#707070" stroke-width="1.0"/>
<text x="219.07" y="620.70" text-anchor="middle" font-size="10.1" fill="#4D4D4D">2005</text>
<line x1="292.40" x2="292.40" y1="607.1" y2="610.30" stroke="#707070" stroke-width="1.0"/>
<text x="292.40" y="620.70" text-anchor="middle" font-size="10.1" fill="#4D4D4D">2010</text>
<line x1="365.73" x2="365.73" y1="607.1" y2="610.30" stroke="#707070" stroke-width="1.0"/>
<text x="365.73" y="620.70" text-anchor="middle" font-size="10.1" fill="#4D4D4D">2015</text>
<line x1="439.07" x2="439.07" y1="607.1" y2="610.30" stroke="#707070" stroke-width="1.0"/>
<text x="439.07" y="620.70" text-anchor="middle" font-size="10.1" fill="#4D4D4D">2020</text>
<text x="72.36" y="432.30" font-size="9.2" font-style="italic" fill="#3C823C">y</text>
<text x="80.35" y="432.30" font-size="9.2" font-style="italic" fill="#3C823C">=</text>
<text x="92.80" y="432.30" font-size="9.2" font-style="italic" fill="#3C823C" textLength="17.14" lengthAdjust="spacingAndGlyphs">2.59</text>
<text x="118.72" y="432.30" font-size="9.2" font-style="italic" fill="#3C823C" textLength="32.04" lengthAdjust="spacingAndGlyphs">-15.94x</text>
<text x="157.15" y="432.30" font-size="9.2" font-style="italic" fill="#3C823C">+</text>
<text x="165.00" y="432.30" font-size="9.2" font-style="italic" fill="#3C823C" textLength="38.87" lengthAdjust="spacingAndGlyphs">28.05x^2</text>
<text x="212.63" y="432.30" font-size="9.2" font-style="italic" fill="#3C823C" textLength="28.18" lengthAdjust="spacingAndGlyphs">-16x^3</text>
<text x="12.5" y="350.8" font-size="15" fill="#000">b</text>
<text x="55.2" y="363.0" font-size="15.1" fill="#000">Best fit with TREC</text>
<text x="248.4" y="634" text-anchor="middle" font-size="12.6" fill="#000">Year</text>
<text transform="translate(29.8,489.8) rotate(-90)" text-anchor="middle" font-size="12.6" fill="#000" xml:space="preserve">Nutrients 2 - Silicate 150-200m  [Nwl20]</text>
</svg></body></html>
